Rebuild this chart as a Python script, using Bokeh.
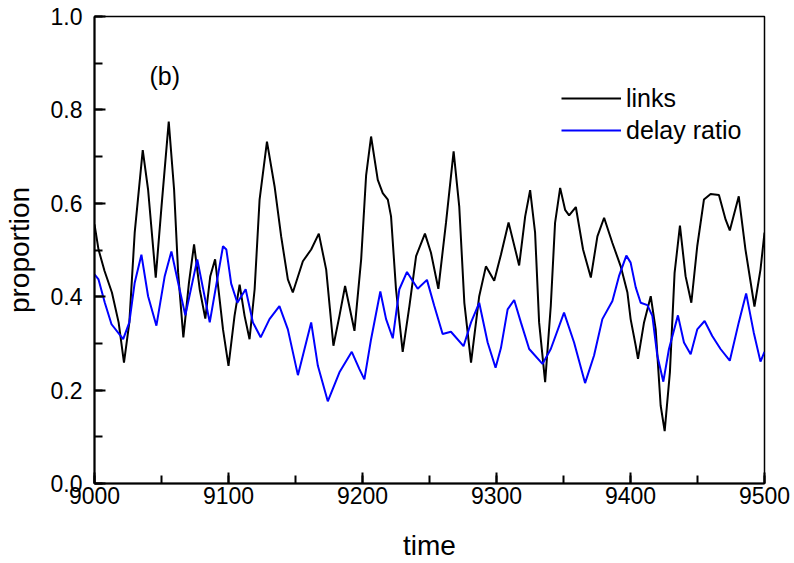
from bokeh.plotting import figure
from bokeh.models import Range1d, SingleIntervalTicker, PrintfTickFormatter, Label, PolyAnnotation
from bokeh.embed import file_html
from bokeh.resources import INLINE

# ---- data ----
links_t = [9000, 9003, 9007.5, 9013, 9018, 9022, 9026, 9030, 9036, 9040, 9045.7, 9050, 9055.4,
           9059.4, 9062.4, 9066.3, 9070.5, 9074.3, 9078.5, 9082.7, 9086.4, 9090, 9095.9, 9100,
           9104.5, 9108.3, 9112, 9115.7, 9119.5, 9123.2, 9128.7, 9134.4, 9139.3, 9144.3, 9148,
           9155.5, 9161.7, 9167.4, 9172.9, 9178.3, 9182.8, 9187, 9194, 9199, 9202.7, 9206.4,
           9211.4, 9215.1, 9218.9, 9221.3, 9225, 9230, 9235, 9240, 9246.6, 9251.1, 9256.6,
           9262.3, 9268, 9272.2, 9276, 9281, 9287.1, 9292.1, 9298.3, 9303.3, 9309, 9316.9,
           9321.4, 9325.1, 9328.8, 9331.8, 9336.3, 9340.5, 9343.7, 9347.5, 9351.2, 9354.2,
           9359.2, 9364.6, 9370.4, 9375.3, 9380.3, 9386.5, 9392.7, 9397.7, 9400.1, 9403.9,
           9405.6, 9410.1, 9415.1, 9418.8, 9422.5, 9425.5, 9429.4, 9432.9, 9436.9, 9441.1,
           9445.4, 9449.8, 9454.8, 9459.8, 9466, 9471, 9474.1, 9480.8, 9485.8, 9492.5, 9497, 9500]
links_v = [0.555, 0.501, 0.455, 0.409, 0.345, 0.259, 0.345, 0.537, 0.714, 0.629, 0.441, 0.593, 0.775,
           0.629, 0.452, 0.313, 0.430, 0.512, 0.416, 0.353, 0.444, 0.480, 0.330, 0.252,
           0.359, 0.426, 0.359, 0.309, 0.416, 0.608, 0.732, 0.636, 0.529, 0.437, 0.409,
           0.476, 0.501, 0.535, 0.458, 0.295, 0.359, 0.423, 0.327, 0.480, 0.660, 0.743,
           0.650, 0.622, 0.608, 0.572, 0.416, 0.282, 0.380, 0.487, 0.535, 0.494, 0.417,
           0.558, 0.711, 0.593, 0.387, 0.259, 0.401, 0.465, 0.434, 0.490, 0.559, 0.467,
           0.572, 0.628, 0.537, 0.345, 0.217, 0.380, 0.558, 0.633, 0.586, 0.574,
           0.592, 0.501, 0.441, 0.529, 0.569, 0.515, 0.465, 0.409, 0.352, 0.295,
           0.267, 0.345, 0.401, 0.330, 0.167, 0.112, 0.238, 0.451, 0.552, 0.444,
           0.387, 0.508, 0.608, 0.620, 0.618, 0.565, 0.542, 0.615, 0.501, 0.379, 0.458, 0.537]

delay_t = [9000, 9003, 9007.7, 9012.7, 9021.4, 9026, 9030, 9035, 9040, 9046.2, 9052.4, 9057.4,
           9062.4, 9067.8, 9076.7, 9086, 9095.9, 9098.4, 9102, 9106.6, 9112.8, 9118.2, 9124,
           9130.6, 9138, 9144.3, 9151.8, 9161.7, 9166.7, 9174.1, 9182.8, 9192, 9197.7, 9201.4,
           9206.4, 9213.3, 9217.6, 9222.6, 9227.5, 9233.2, 9241.2, 9248.1, 9253.6, 9259.8,
           9266, 9275.4, 9281, 9287.1, 9293.4, 9299.3, 9303.3, 9308.3, 9313.2, 9318.2, 9324.4,
           9334.3, 9340.5, 9350.4, 9357.9, 9366.1, 9372.8, 9379, 9386.5, 9391.4, 9396.9,
           9400.1, 9403.9, 9407.6, 9412.6, 9416.3, 9420, 9424.5, 9428.7, 9435.4, 9439.9,
           9444.9, 9449.8, 9455.3, 9461, 9467.2, 9474.1, 9480.8, 9486.3, 9492, 9497, 9500]
delay_v = [0.448, 0.437, 0.387, 0.341, 0.309, 0.345, 0.430, 0.490, 0.401, 0.338, 0.444, 0.497,
           0.430, 0.360, 0.480, 0.345, 0.508, 0.501, 0.428, 0.387, 0.416, 0.345, 0.313,
           0.352, 0.380, 0.330, 0.232, 0.345, 0.252, 0.176, 0.238, 0.282, 0.245, 0.223,
           0.309, 0.411, 0.352, 0.311, 0.416, 0.453, 0.417, 0.436, 0.380, 0.320,
           0.325, 0.294, 0.345, 0.387, 0.302, 0.248, 0.290, 0.373, 0.393, 0.345, 0.288,
           0.256, 0.288, 0.366, 0.302, 0.215, 0.274, 0.352, 0.391, 0.444, 0.488,
           0.473, 0.420, 0.387, 0.382, 0.359, 0.274, 0.218, 0.288, 0.360, 0.302,
           0.277, 0.330, 0.348, 0.316, 0.288, 0.263, 0.345, 0.407, 0.323, 0.261, 0.282]

x_start, x_end = 9000, 9500
y_start, y_end = 0.0, 1.0
next_panel_top = "1.0"   # top tick label of the (cropped) panel below

FONT = "Liberation Sans"

p = figure(width=794, height=563, output_backend="svg", toolbar_location=None,
           x_range=Range1d(x_start, x_end), y_range=Range1d(y_start, y_end),
           min_border_left=93, min_border_right=30, min_border_top=16, min_border_bottom=78)

p.line(links_t, links_v, line_color="black", line_width=2, legend_label="links")
p.line(delay_t, delay_v, line_color="#0000ff", line_width=2, legend_label="delay ratio")

p.xgrid.visible = False
p.ygrid.visible = False
p.background_fill_color = "white"
p.border_fill_color = "white"
p.outline_line_color = "black"
p.outline_line_width = 1.5

p.xaxis.ticker = SingleIntervalTicker(interval=100, num_minor_ticks=2)
p.yaxis.ticker = SingleIntervalTicker(interval=0.2, num_minor_ticks=2)
p.yaxis.formatter = PrintfTickFormatter(format="%.1f")

for ax in (p.xaxis[0], p.yaxis[0]):
    ax.axis_line_width = 2
    ax.axis_line_color = "black"
    ax.major_tick_in = 11
    ax.major_tick_out = 0
    ax.minor_tick_in = 8
    ax.minor_tick_out = 0
    ax.major_tick_line_width = 2
    ax.minor_tick_line_width = 2
    ax.major_tick_line_color = "black"
    ax.minor_tick_line_color = "black"
    ax.major_label_text_font = FONT
    ax.major_label_text_font_size = "23px"
    ax.major_label_text_color = "black"
    ax.axis_label_text_font = FONT
    ax.axis_label_text_font_style = "normal"
    ax.axis_label_text_color = "black"

p.xaxis.axis_label = "time"
p.yaxis.axis_label = "proportion"
p.xaxis.axis_label_text_font_size = "28px"
p.yaxis.axis_label_text_font_size = "28px"
p.xaxis.major_label_standoff = 3
p.yaxis.major_label_standoff = 12
p.xaxis.axis_label_standoff = 23
p.yaxis.axis_label_standoff = 13

lg = p.legend[0]
lg.location = (467, 337)
lg.border_line_alpha = 0
lg.background_fill_alpha = 0
lg.label_text_font = FONT
lg.label_text_font_size = "25px"
lg.label_text_color = "black"
lg.glyph_width = 60
lg.glyph_height = 32
lg.label_height = 32
lg.label_standoff = 5
lg.spacing = 0
lg.padding = 0
lg.margin = 0

p.add_layout(Label(x=9041, y=0.872, text="(b)", text_font=FONT, text_font_size="25px",
                   text_baseline="middle", text_color="black"))

# top edge of the next (cropped) panel below
p.add_layout(PolyAnnotation(xs=[x_start, x_end, x_end, x_start],
                            ys=[-0.164, -0.164, -0.166, -0.166],
                            fill_alpha=0, line_color="#888888", line_width=1.5))
p.add_layout(Label(x=x_start, y=-0.163, text=next_panel_top, text_font=FONT,
                   text_font_size="23px", text_align="right", text_baseline="middle",
                   x_offset=-12, text_color="black"))

open("out.html", "w").write(file_html(p, INLINE))
